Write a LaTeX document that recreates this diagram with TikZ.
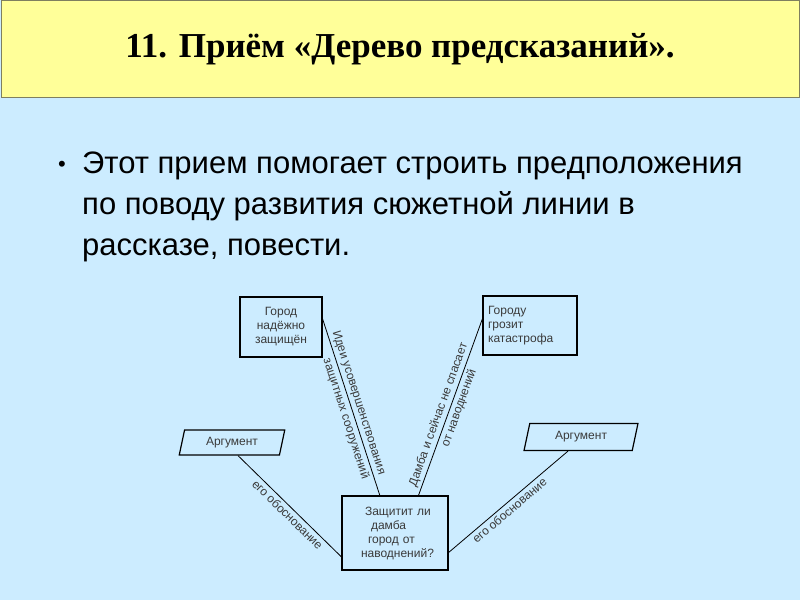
\documentclass[tikz,border=0pt]{standalone}
\usepackage{fontspec}
\setmainfont{Liberation Sans}
\newfontfamily\titlefont{Liberation Serif}
\usetikzlibrary{shapes.geometric}
\definecolor{slideBlue}{HTML}{CCECFF}
\definecolor{slideYellow}{HTML}{FFFF99}
\definecolor{slideEdge}{HTML}{7F7F5F}
\definecolor{inkGray}{HTML}{3A3A3A}

\begin{document}
\begin{tikzpicture}[
  x=1pt, y=-1pt,
  header/.style={fill=slideYellow, draw=slideEdge, line width=1pt,
                 minimum width=798pt, minimum height=97pt,
                 font=\titlefont\bfseries\fontsize{35}{40}\selectfont},
  body/.style={align=left, inner sep=0pt,
               font=\fontsize{31}{41}\selectfont},
  box/.style={draw=black, line width=1.2pt, text=inkGray, inner sep=2pt,
              font=\fontsize{12}{14}\selectfont},
  argbox/.style={draw=black, line width=1.2pt, text=inkGray,
                 trapezium, trapezium left angle=78, trapezium right angle=102,
                 inner sep=2pt, font=\fontsize{12}{14}\selectfont},
  link/.style={draw=black, line width=0.8pt},
  lbl/.style={text=inkGray, inner sep=2.5pt, font=\fontsize{12}{14}\selectfont}
]
\fill[slideBlue] (0,0) rectangle (800,600);
\useasboundingbox (0,0) rectangle (800,600);

\node[header] (head) at (400,49) {11. Приём «Дерево предсказаний».};
\node[body, anchor=north west] (intro) at (82,152)
  {Этот прием помогает строить предположения\\
   по поводу развития сюжетной линии в\\
   рассказе, повести.};
\node[inner sep=0pt, font=\fontsize{22}{22}\selectfont] (dot) at (62,166)
  {\textbullet};

\node[box, minimum width=82pt, minimum height=60pt, align=center] (safe)
  at (281,327) {Город\\надёжно\\защищён};
\node[box, minimum width=94pt, minimum height=59pt, text width=84pt,
  align=left] (doom) at (530,325.5) {Городу\\грозит\\катастрофа};
\node[box, minimum width=106pt, minimum height=74pt, text width=84pt,
  align=left] (dam) at (395,533)
  {\hspace{12pt}Защитит ли\\\hspace{18pt}дамба\\\hspace{15pt}город от\\\hspace{8pt}наводнений?};
\node[argbox, minimum width=80pt, minimum height=25pt] (argl)
  at (232,442.5) {Аргумент};
\node[argbox, minimum width=90pt, minimum height=27pt] (argr)
  at (581,437) {Аргумент};

\draw[link] (safe.11) --
  node[pos=0.49, sloped, above, lbl] {Идеи усовершенствования}
  node[pos=0.55, sloped, below, lbl] {защитных сооружений}
  (dam.112);
\draw[link] (dam.58) --
  node[pos=0.44, sloped, above, lbl] {Дамба и сейчас не спасает}
  node[pos=0.51, sloped, below, lbl] {от наводнений}
  (doom.172);
\draw[link] ([xshift=6pt]argl.south) --
  node[pos=0.53, sloped, below, lbl] {его обоснование}
  (dam.204);
\draw[link] (dam.340) --
  node[pos=0.47, sloped, below, lbl] {его обоснование}
  ([xshift=-13pt]argr.south);
\end{tikzpicture}
\end{document}
